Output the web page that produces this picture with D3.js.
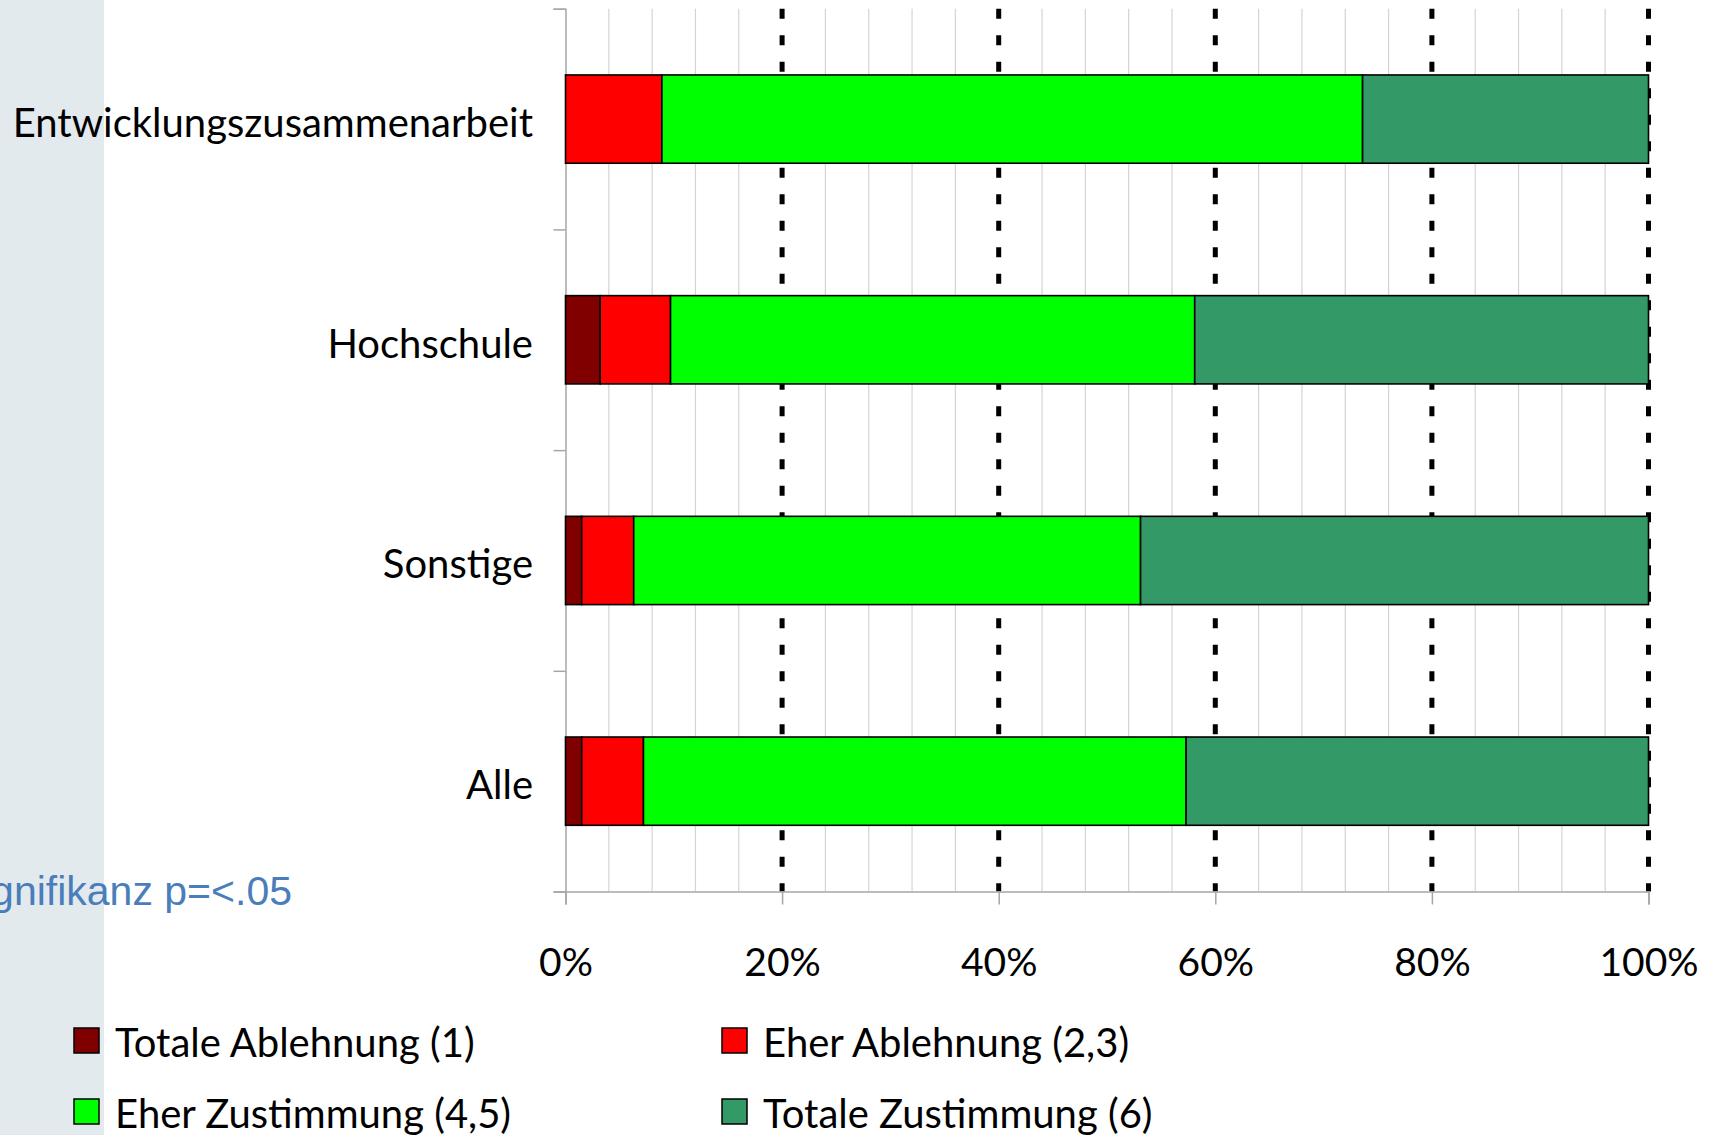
<!DOCTYPE html>
<html>
<head>
<meta charset="utf-8">
<script src="https://cdn.jsdelivr.net/npm/d3@7"></script>
<style>
  html, body { margin: 0; padding: 0; background: #fff; }
  svg { display: block; }
</style>
</head>
<body>
<div id="chart"></div>
<script>
const categories = ["Entwicklungszusammenarbeit", "Hochschule", "Sonstige", "Alle"]
const seriesNames = ["Totale Ablehnung (1)", "Eher Ablehnung (2,3)", "Eher Zustimmung (4,5)", "Totale Zustimmung (6)"]
const totaleAblehnung = [0, 3.2, 1.5, 1.5]
const eherAblehnung = [8.9, 6.5, 4.8, 5.7]
const eherZustimmung = [64.7, 48.4, 46.8, 50.1]
const totaleZustimmung = [26.4, 41.9, 46.9, 42.7]
const xTicks = [0, 20, 40, 60, 80, 100]
const minorTicks = d3.range(0, 101, 4)
const seriesColors = ["#800000", "#ff0000", "#00ff00", "#339966"]
const noteText = "Signifikanz p=<.05"

const WIDTH = 1715
const HEIGHT = 1135
const PLOT = { LEFT: 565.5, RIGHT: 1648.5, TOP: 8.75, BOTTOM: 891.5 }
const labelFont = "Lato, 'Open Sans', sans-serif"

const svg = d3.select("#chart")
  .append("svg")
  .attr("width", WIDTH)
  .attr("height", HEIGHT)

// grey strip on the left edge
svg.append("rect")
  .attr("x", 0).attr("y", 0)
  .attr("width", 104).attr("height", HEIGHT)
  .attr("fill", "#e3eaee")

const keys = seriesNames
const table = categories.map((c, i) => ({
  category: c,
  [keys[0]]: totaleAblehnung[i],
  [keys[1]]: eherAblehnung[i],
  [keys[2]]: eherZustimmung[i],
  [keys[3]]: totaleZustimmung[i]
}))
const stacked = d3.stack().keys(keys)(table)

const x = d3.scaleLinear().domain([0, 100]).range([PLOT.LEFT, PLOT.RIGHT])
const y = d3.scaleBand()
  .domain(categories)
  .range([PLOT.TOP, PLOT.BOTTOM])
  .paddingInner(0.6)
  .paddingOuter(0.3)
const yEdge = d3.scaleLinear().domain([0, categories.length]).range([PLOT.TOP, PLOT.BOTTOM])
const color = d3.scaleOrdinal().domain(keys).range(seriesColors)

// minor gridlines
svg.append("g")
  .selectAll("line")
  .data(minorTicks.filter(t => t % 20 !== 0))
  .join("line")
  .attr("x1", d => x(d)).attr("x2", d => x(d))
  .attr("y1", PLOT.TOP).attr("y2", PLOT.BOTTOM)
  .attr("stroke", "#d4d4d4")
  .attr("stroke-width", 1.2)

// major dotted gridlines
svg.append("g")
  .selectAll("line")
  .data(xTicks.filter(t => t > 0))
  .join("line")
  .attr("x1", d => x(d)).attr("x2", d => x(d))
  .attr("y1", PLOT.TOP).attr("y2", PLOT.BOTTOM)
  .attr("stroke", "#000")
  .attr("stroke-width", 5)
  .attr("stroke-dasharray", "10,16.5")

// axes
const xAxis = svg.append("g")
  .attr("class", "x axis")
  .attr("transform", `translate(0, ${PLOT.BOTTOM})`)
  .call(d3.axisBottom(x).tickValues(xTicks).tickSize(13).tickPadding(44)
    .tickFormat(d => d + "%"))
xAxis.select(".domain").attr("stroke", "#a6a6a6").attr("stroke-width", 1.5)
xAxis.selectAll(".tick line").attr("stroke", "#a6a6a6").attr("stroke-width", 1.5)
xAxis.selectAll("text")
  .attr("font-family", labelFont)
  .attr("font-size", "39px")
  .attr("fill", "#000")

const yAxis = svg.append("g")
  .attr("class", "y axis")
  .attr("transform", `translate(${PLOT.LEFT}, 0)`)
  .call(d3.axisLeft(yEdge).tickValues(d3.range(categories.length + 1)).tickSize(12).tickFormat(""))
yAxis.select(".domain").attr("stroke", "#a6a6a6").attr("stroke-width", 1.5)
yAxis.selectAll(".tick line").attr("stroke", "#a6a6a6").attr("stroke-width", 1.5)

// category labels
svg.append("g")
  .selectAll("text")
  .data(categories)
  .join("text")
  .attr("x", 533)
  .attr("y", d => y(d) + y.bandwidth() / 2 + 18)
  .attr("text-anchor", "end")
  .attr("font-family", labelFont)
  .attr("font-size", "40px")
  .attr("fill", "#000")
  .text(d => d)

// stacked bars
svg.append("g")
  .selectAll("g")
  .data(stacked)
  .join("g")
  .attr("fill", d => color(d.key))
  .selectAll("rect")
  .data(d => d)
  .join("rect")
  .attr("x", d => x(d[0]))
  .attr("y", d => y(d.data.category))
  .attr("width", d => x(d[1]) - x(d[0]))
  .attr("height", y.bandwidth())
  .attr("stroke", "#000")
  .attr("stroke-width", 1.6)

// significance note
svg.append("text")
  .attr("x", 292)
  .attr("y", 905)
  .attr("text-anchor", "end")
  .attr("font-family", "'Liberation Sans', Arial, sans-serif")
  .attr("font-size", "41px")
  .attr("fill", "#4a7ebb")
  .text(noteText)

// legend
const legendPos = [
  { x: 74, y: 1028 },
  { x: 722, y: 1028 },
  { x: 74, y: 1099 },
  { x: 722, y: 1099 }
]
const legend = svg.append("g")
  .selectAll("g")
  .data(keys)
  .join("g")
  .attr("transform", (d, i) => `translate(${legendPos[i].x}, ${legendPos[i].y})`)
legend.append("rect")
  .attr("width", 25).attr("height", 25)
  .attr("fill", d => color(d))
  .attr("stroke", "#000")
  .attr("stroke-width", 1.5)
legend.append("text")
  .attr("x", 41)
  .attr("y", 29)
  .attr("font-family", labelFont)
  .attr("font-size", "40px")
  .attr("fill", "#000")
  .text(d => d)
</script>
</body>
</html>
